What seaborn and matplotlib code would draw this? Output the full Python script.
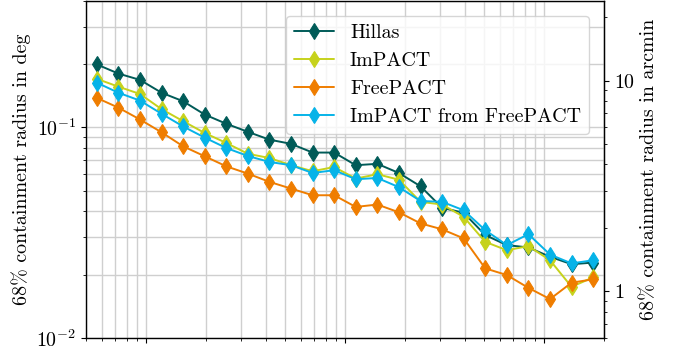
import numpy as np
import pandas as pd
import matplotlib
matplotlib.use("Agg")
import matplotlib.pyplot as plt
import matplotlib.ticker as mticker
import seaborn as sns

# Energy bin centres (TeV)
energy = [0.0566, 0.0727, 0.0933, 0.1198, 0.1537, 0.1973, 0.2533, 0.3251,
          0.4173, 0.5356, 0.6875, 0.8824, 1.1324, 1.4536, 1.866, 2.395,
          3.074, 3.945, 5.064, 6.500, 8.343, 10.71, 13.74, 17.64]

hillas = [0.199, 0.180, 0.168, 0.146, 0.133, 0.115, 0.104, 0.0952,
          0.0874, 0.0835, 0.0759, 0.0759, 0.0661, 0.0671, 0.0607, 0.0525,
          0.0415, 0.0393, 0.0308, 0.0276, 0.0269, 0.0243, 0.0224, 0.0228]
impact = [0.170, 0.156, 0.144, 0.122, 0.107, 0.094, 0.0843, 0.0749,
          0.0715, 0.0661, 0.0619, 0.0648, 0.0571, 0.0599, 0.0564, 0.0443,
          0.0430, 0.0376, 0.0286, 0.0261, 0.0273, 0.0234, 0.0175, 0.0194]
freepact = [0.138, 0.124, 0.109, 0.0947, 0.0813, 0.0729, 0.0653, 0.0603,
            0.0551, 0.0512, 0.0476, 0.0476, 0.0419, 0.0430, 0.0395, 0.0350,
            0.0328, 0.0297, 0.0214, 0.0199, 0.0173, 0.0153, 0.0183, 0.0190]
impact_ff = [0.163, 0.146, 0.134, 0.116, 0.101, 0.0894, 0.0798, 0.0731,
             0.0685, 0.0661, 0.0607, 0.0626, 0.0567, 0.0575, 0.0520, 0.0447,
             0.0443, 0.0404, 0.0325, 0.0276, 0.0311, 0.0249, 0.0226, 0.0234]

methods = ["Hillas", "ImPACT", "FreePACT", "ImPACT from FreePACT"]
colors = ["#005b58", "#c6d21c", "#ef7d00", "#06b3e8"]

arcmin_major = [1, 10]
arcmin_minor = [0.6, 0.7, 0.8, 0.9, 2, 3, 4, 5, 6, 7, 8, 9, 20]

series = {"Hillas": hillas, "ImPACT": impact, "FreePACT": freepact,
          "ImPACT from FreePACT": impact_ff}
df = pd.concat([pd.DataFrame({"energy": energy, "radius": series[m], "method": m})
                for m in methods], ignore_index=True)

sns.set_style("ticks")
plt.rcParams["font.family"] = ["serif"]
plt.rcParams["font.serif"] = ["cmr10"]
plt.rcParams["mathtext.fontset"] = "cm"
plt.rcParams["axes.formatter.use_mathtext"] = True
plt.rcParams["axes.unicode_minus"] = False
for k in ["text.color", "axes.labelcolor", "xtick.color", "ytick.color", "axes.edgecolor"]:
    plt.rcParams[k] = "black"

fs = 14.4
fig = plt.figure(figsize=(6.8, 3.52), dpi=100)
ax = fig.add_axes([86 / 680, 14 / 352, (604 - 86) / 680, (352 - 14 - 0.5) / 352])

for m, c in zip(methods, colors):
    sub = df[df["method"] == m]
    sns.lineplot(data=sub, x="energy", y="radius", ax=ax, color=c, label=m,
                 marker="d", markersize=8.5, markeredgecolor=c,
                 markeredgewidth=0.8, linewidth=1.4)

ax.set_xscale("log")
ax.set_yscale("log")
ax.set_xlim(0.05, 20)
ax.set_ylim(0.01, 0.4)
ax.grid(True, which="both", color="#cfcfcf", linewidth=1.0)
ax.set_axisbelow(True)
ax.set_xlabel("")
ax.set_ylabel("68% containment radius in deg", fontsize=fs)
ax.tick_params(axis="x", which="both", labelbottom=False, direction="out")
ax.tick_params(axis="y", which="both", labelsize=fs, direction="out")
for s in ax.spines.values():
    s.set_visible(True)
    s.set_color("black")
    s.set_linewidth(1.0)

sec = ax.secondary_yaxis("right", functions=(lambda d: d * 60, lambda a: a / 60))
sec.set_ylabel("68% containment radius in arcmin", fontsize=fs)
sec.yaxis.set_major_locator(mticker.FixedLocator(arcmin_major))
sec.yaxis.set_minor_locator(mticker.FixedLocator(arcmin_minor))
sec.yaxis.set_major_formatter(mticker.FuncFormatter(lambda v, p: f"${v:g}$"))
sec.yaxis.set_minor_formatter(mticker.NullFormatter())
sec.tick_params(axis="y", which="both", labelsize=fs, direction="out")
sec.spines["right"].set_color("black")
sec.xaxis.set_visible(False)

leg = ax.legend(loc="upper right", fontsize=fs, frameon=True, fancybox=True,
                framealpha=0.8, edgecolor="#cccccc", borderaxespad=0.75)

fig.savefig("out.png", dpi=100)
